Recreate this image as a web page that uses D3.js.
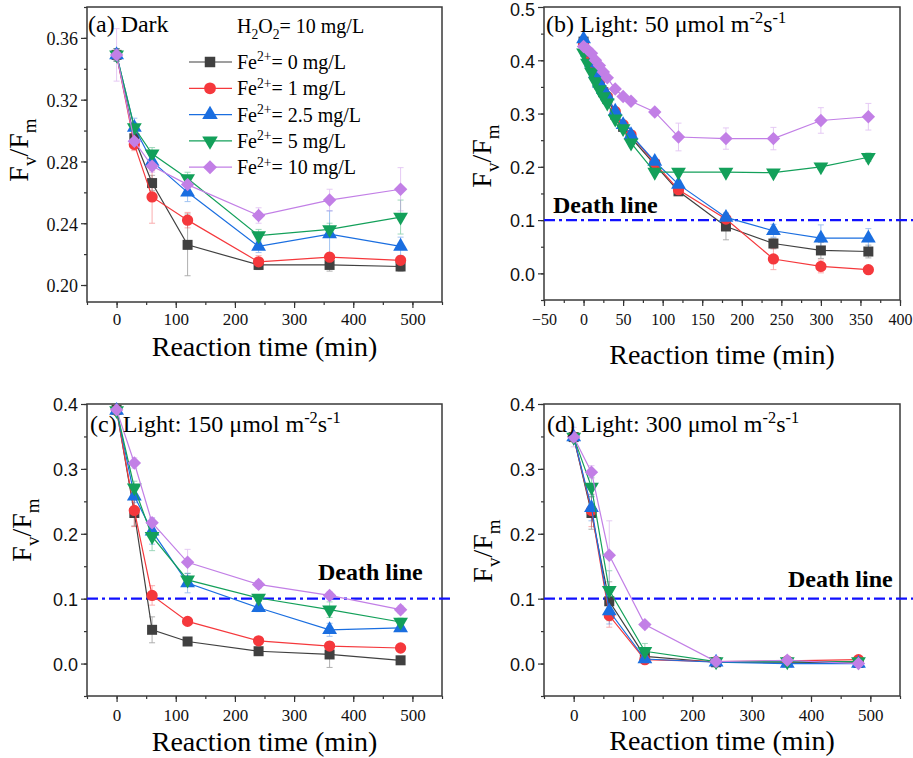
<!DOCTYPE html>
<html>
<head>
<meta charset="utf-8">
<script src="https://cdn.jsdelivr.net/npm/d3@7"></script>
<style>
  body { margin: 0; background: #fff; }
</style>
</head>
<body>
<svg id="chart" width="913" height="758"></svg>
<script>
// ---- data ----
const doses = ["0", "1", "2.5", "5", "10"];          // Fe2+ mg/L
const colors = ["#404040", "#f5383c", "#1a6ee0", "#13a05a", "#c27fe6"];

const timesA = [0, 30, 60, 120, 240, 360, 480];
const valsA = [
  [0.349, 0.295, 0.266, 0.226, 0.213, 0.213, 0.212],
  [0.349, 0.291, 0.257, 0.242, 0.215, 0.218, 0.216],
  [0.349, 0.302, 0.280, 0.260, 0.225, 0.233, 0.225],
  [0.349, 0.302, 0.285, 0.269, 0.232, 0.236, 0.244],
  [0.349, 0.293, 0.277, 0.265, 0.245, 0.255, 0.262]
];
const errA = [
  [0.004, 0.003, 0.005, 0.020, 0.003, 0.004, 0.003],
  [0.004, 0.004, 0.017, 0.005, 0.004, 0.003, 0.003],
  [0.004, 0.006, 0.005, 0.006, 0.004, 0.015, 0.006],
  [0.004, 0.003, 0.004, 0.004, 0.004, 0.004, 0.011],
  [0.017, 0.005, 0.004, 0.004, 0.005, 0.007, 0.014]
];

const timesB = [0, 5, 10, 15, 20, 25, 30, 40, 50, 60, 90, 120, 180, 240, 300, 360];
const valsB = [
  [0.435, 0.410, 0.390, 0.372, 0.355, 0.340, 0.328, 0.298, 0.275, 0.255, 0.204, 0.154, 0.088, 0.056, 0.043, 0.041],
  [0.430, 0.410, 0.390, 0.372, 0.357, 0.342, 0.332, 0.304, 0.279, 0.260, 0.207, 0.157, 0.102, 0.027, 0.013, 0.007],
  [0.440, 0.415, 0.395, 0.375, 0.357, 0.345, 0.333, 0.304, 0.279, 0.260, 0.210, 0.167, 0.105, 0.080, 0.066, 0.066],
  [0.414, 0.395, 0.378, 0.360, 0.345, 0.332, 0.320, 0.290, 0.272, 0.245, 0.190, 0.190, 0.190, 0.189, 0.200, 0.218],
  [0.426, 0.420, 0.413, 0.400, 0.390, 0.378, 0.367, 0.346, 0.332, 0.323, 0.303, 0.256, 0.253, 0.253, 0.287, 0.294]
];
const errB = [
  [0.005, 0.004, 0.004, 0.004, 0.004, 0.004, 0.004, 0.005, 0.005, 0.006, 0.006, 0.006, 0.025, 0.010, 0.015, 0.012],
  [0.005, 0.004, 0.004, 0.004, 0.004, 0.004, 0.004, 0.005, 0.005, 0.006, 0.006, 0.006, 0.010, 0.020, 0.012, 0.006],
  [0.005, 0.004, 0.004, 0.004, 0.004, 0.004, 0.004, 0.005, 0.005, 0.006, 0.006, 0.006, 0.008, 0.012, 0.025, 0.018],
  [0.005, 0.004, 0.004, 0.004, 0.004, 0.004, 0.004, 0.005, 0.005, 0.006, 0.005, 0.004, 0.004, 0.004, 0.005, 0.008],
  [0.005, 0.004, 0.004, 0.004, 0.004, 0.004, 0.004, 0.005, 0.005, 0.006, 0.006, 0.026, 0.020, 0.021, 0.024, 0.025]
];

const timesCD = [0, 30, 60, 120, 240, 360, 480];
const valsC = [
  [0.391, 0.232, 0.052, 0.034, 0.019, 0.014, 0.005],
  [0.390, 0.236, 0.105, 0.065, 0.035, 0.027, 0.024],
  [0.390, 0.258, 0.204, 0.124, 0.086, 0.052, 0.055],
  [0.390, 0.271, 0.196, 0.129, 0.101, 0.083, 0.064],
  [0.391, 0.309, 0.217, 0.156, 0.122, 0.105, 0.083]
];
const errC = [
  [0.005, 0.020, 0.020, 0.004, 0.004, 0.020, 0.006],
  [0.005, 0.025, 0.015, 0.004, 0.004, 0.004, 0.004],
  [0.005, 0.010, 0.020, 0.015, 0.006, 0.010, 0.005],
  [0.005, 0.010, 0.022, 0.010, 0.005, 0.012, 0.006],
  [0.005, 0.008, 0.008, 0.020, 0.006, 0.006, 0.006]
];
const valsD = [
  [0.349, 0.232, 0.096, 0.011, 0.002, 0.002, 0.001],
  [0.349, 0.236, 0.074, 0.006, 0.003, 0.004, 0.006],
  [0.349, 0.240, 0.081, 0.007, 0.002, 0.000, 0.000],
  [0.349, 0.272, 0.113, 0.019, 0.003, 0.003, 0.003],
  [0.349, 0.295, 0.167, 0.060, 0.003, 0.005, 0.000]
];
const errD = [
  [0.005, 0.025, 0.030, 0.005, 0.003, 0.003, 0.003],
  [0.005, 0.025, 0.018, 0.004, 0.003, 0.003, 0.003],
  [0.005, 0.020, 0.020, 0.004, 0.003, 0.003, 0.003],
  [0.005, 0.015, 0.030, 0.012, 0.003, 0.003, 0.003],
  [0.015, 0.010, 0.053, 0.005, 0.003, 0.003, 0.003]
];
const deathLine = 0.1;

// ---- drawing ----
const svg = d3.select("#chart");
const serif = "'Liberation Serif', 'Times New Roman', serif";
const sans = "'Liberation Sans', Arial, sans-serif";

const shapes = [d3.symbolSquare, d3.symbolCircle, d3.symbolTriangle, d3.symbolTriangle, d3.symbolSquare];
const turns = [0, 0, 0, 180, 45];
const sizes = [100, 100, 95, 95, 90];

// text with sub/superscripts: parts = [[text, "n"|"sub"|"sup"], ...]
function rich(sel, parts, fs) {
  let shift = 0;
  parts.forEach(([t, k]) => {
    const target = k === "sub" ? 0.28 * fs : k === "sup" ? -0.38 * fs : 0;
    sel.append("tspan")
      .attr("dy", target - shift)
      .style("font-size", k === "n" ? fs + "px" : (fs * 0.68) + "px")
      .text(t);
    shift = target;
  });
}

const panels = [
  { x0: 87, x1: 442, y0: 7, y1: 302, xDom: [-50, 550], yDom: [0.189, 0.38],
    times: timesA, vals: valsA, errs: errA,
    xMajor: d3.range(0, 501, 100), xMinor: d3.range(-50, 551, 50),
    yMajor: d3.range(5).map(i => 0.20 + 0.04 * i), yMinor: d3.range(10).map(i => 0.20 + 0.02 * i),
    yFmt: ".2f", yFont: serif, xFont: serif, xFs: 17, xLab: 325, xTitle: 356,
    yLab: [28, 150], title: ["(a) Dark", ""], titlePos: [88, 32], death: null },
  { x0: 544, x1: 900, y0: 7, y1: 300, xDom: [-50, 400], yDom: [-0.05, 0.5],
    times: timesB, vals: valsB, errs: errB,
    xMajor: d3.range(-50, 401, 50), xMinor: d3.range(-50, 401, 25),
    yMajor: d3.range(6).map(i => 0.1 * i), yMinor: d3.range(11).map(i => -0.05 + 0.05 * i),
    yFmt: ".1f", yFont: sans, xFont: serif, xFs: 16, xLab: 325, xTitle: 364,
    yLab: [491, 156], title: ["(b) Light: 50 μmol m", "b"], titlePos: [546, 32],
    death: { end: 913, text: [553, 213] } },
  { x0: 87, x1: 442, y0: 404, y1: 696, xDom: [-50, 550], yDom: [-0.05, 0.4],
    times: timesCD, vals: valsC, errs: errC,
    xMajor: d3.range(0, 501, 100), xMinor: d3.range(-50, 551, 50),
    yMajor: d3.range(5).map(i => 0.1 * i), yMinor: d3.range(10).map(i => -0.05 + 0.05 * i),
    yFmt: ".1f", yFont: sans, xFont: serif, xFs: 17, xLab: 721, xTitle: 751,
    yLab: [31, 530], title: ["(c) Light: 150 μmol m", "c"], titlePos: [90, 432],
    death: { end: 454, text: [318, 580] } },
  { x0: 544, x1: 900, y0: 404, y1: 696, xDom: [-50, 550], yDom: [-0.05, 0.4],
    times: timesCD, vals: valsD, errs: errD,
    xMajor: d3.range(0, 501, 100), xMinor: d3.range(-50, 551, 50),
    yMajor: d3.range(5).map(i => 0.1 * i), yMinor: d3.range(10).map(i => -0.05 + 0.05 * i),
    yFmt: ".1f", yFont: sans, xFont: serif, xFs: 17, xLab: 721, xTitle: 750,
    yLab: [492, 551], title: ["(d) Light: 300 μmol m", "d"], titlePos: [547, 432],
    death: { end: 913, text: [788, 587] } }
];

panels.forEach(p => {
  const x = d3.scaleLinear().domain(p.xDom).range([p.x0, p.x1]);
  const y = d3.scaleLinear().domain(p.yDom).range([p.y1, p.y0]);
  const g = svg.append("g");

  // axes
  const xa = g.append("g").attr("transform", `translate(0,${p.y1})`);
  xa.call(d3.axisBottom(x).tickValues(p.xMinor).tickSize(3).tickFormat(""));
  xa.append("g").call(d3.axisBottom(x).tickValues(p.xMajor).tickSize(6).tickFormat(d3.format("d")));
  const ya = g.append("g").attr("transform", `translate(${p.x0},0)`);
  ya.call(d3.axisLeft(y).tickValues(p.yMinor).tickSize(3).tickFormat(""));
  ya.append("g").call(d3.axisLeft(y).tickValues(p.yMajor).tickSize(6).tickFormat(d3.format(p.yFmt)));
  g.selectAll(".domain").remove();
  g.selectAll(".tick line").attr("stroke", "#333").attr("stroke-width", 1.2);
  xa.selectAll("text").style("font-family", p.xFont).style("font-size", p.xFs + "px")
    .attr("fill", "#111").attr("dy", null).attr("y", p.xLab - p.y1);
  ya.selectAll("text").style("font-family", p.yFont).style("font-size", "18px")
    .attr("fill", "#111").attr("x", -9).attr("dy", "0.38em");
  // keep the top label inside the picture
  ya.selectAll(".tick text").filter(d => y(d) < 10).attr("dy", "0.45em");

  g.append("rect")
    .attr("x", p.x0).attr("y", p.y0)
    .attr("width", p.x1 - p.x0).attr("height", p.y1 - p.y0)
    .attr("fill", "none").attr("stroke", "#3a3a3a").attr("stroke-width", 1.5);

  // axis titles
  g.append("text")
    .attr("x", (p.x0 + p.x1) / 2).attr("y", p.xTitle)
    .attr("text-anchor", "middle")
    .style("font-family", serif).style("font-size", "28px")
    .text("Reaction time (min)");
  const yt = g.append("text")
    .attr("transform", `translate(${p.yLab[0]},${p.yLab[1]}) rotate(-90)`)
    .attr("text-anchor", "middle")
    .style("font-family", serif);
  rich(yt, [["F", "n"], ["v", "sub"], ["/F", "n"], ["m", "sub"]], 28);

  // death line
  if (p.death) {
    g.append("line")
      .attr("x1", p.x0).attr("x2", p.death.end)
      .attr("y1", y(deathLine)).attr("y2", y(deathLine))
      .attr("stroke", "#1010ff").attr("stroke-width", 2.2)
      .attr("stroke-dasharray", "11,4,3,4");
    g.append("text")
      .attr("x", p.death.text[0]).attr("y", p.death.text[1])
      .style("font-family", serif).style("font-size", "24px").style("font-weight", "bold")
      .text("Death line");
  }

  // error bars
  p.vals.forEach((vs, si) => {
    const eg = g.append("g").attr("stroke", colors[si]).attr("stroke-width", 0.9).attr("opacity", 0.45);
    vs.forEach((v, i) => {
      const e = p.errs[si][i];
      const cx = x(p.times[i]);
      eg.append("line").attr("x1", cx).attr("x2", cx).attr("y1", y(v - e)).attr("y2", y(v + e));
      [v - e, v + e].forEach(w => {
        eg.append("line").attr("x1", cx - 3).attr("x2", cx + 3).attr("y1", y(w)).attr("y2", y(w));
      });
    });
  });

  // series
  const line = d3.line().x((d, i) => x(p.times[i])).y(d => y(d));
  p.vals.forEach((vs, si) => {
    g.append("path").datum(vs)
      .attr("d", line).attr("fill", "none")
      .attr("stroke", colors[si]).attr("stroke-width", 1.2);
    g.selectAll(null).data(vs).join("path")
      .attr("d", d3.symbol(shapes[si], sizes[si]))
      .attr("transform", (d, i) => `translate(${x(p.times[i])},${y(d)}) rotate(${turns[si]})`)
      .attr("fill", colors[si]);
  });

  // panel title
  const tt = g.append("text")
    .attr("x", p.titlePos[0]).attr("y", p.titlePos[1])
    .style("font-family", serif);
  if (p.title[1]) {
    rich(tt, [[p.title[0], "n"], ["-2", "sup"], ["s", "n"], ["-1", "sup"]], 24);
  } else {
    rich(tt, [[p.title[0], "n"]], 24);
  }
});

// legend in panel (a)
const lg = svg.append("g");
const hText = lg.append("text").attr("x", 237).attr("y", 33).style("font-family", serif);
rich(hText, [["H", "n"], ["2", "sub"], ["O", "n"], ["2", "sub"], ["= 10 mg/L", "n"]], 20);
doses.forEach((dose, si) => {
  const cy = 62 + si * 26.3;
  lg.append("line").attr("x1", 189).attr("x2", 232).attr("y1", cy).attr("y2", cy)
    .attr("stroke", colors[si]).attr("stroke-width", 1.2);
  lg.append("path")
    .attr("d", d3.symbol(shapes[si], sizes[si] * 1.1))
    .attr("transform", `translate(210,${cy}) rotate(${turns[si]})`)
    .attr("fill", colors[si]);
  const t = lg.append("text").attr("x", 237).attr("y", cy + 7).style("font-family", serif);
  rich(t, [["Fe", "n"], ["2+", "sup"], ["= " + dose + " mg/L", "n"]], 20);
});
</script>
</body>
</html>
